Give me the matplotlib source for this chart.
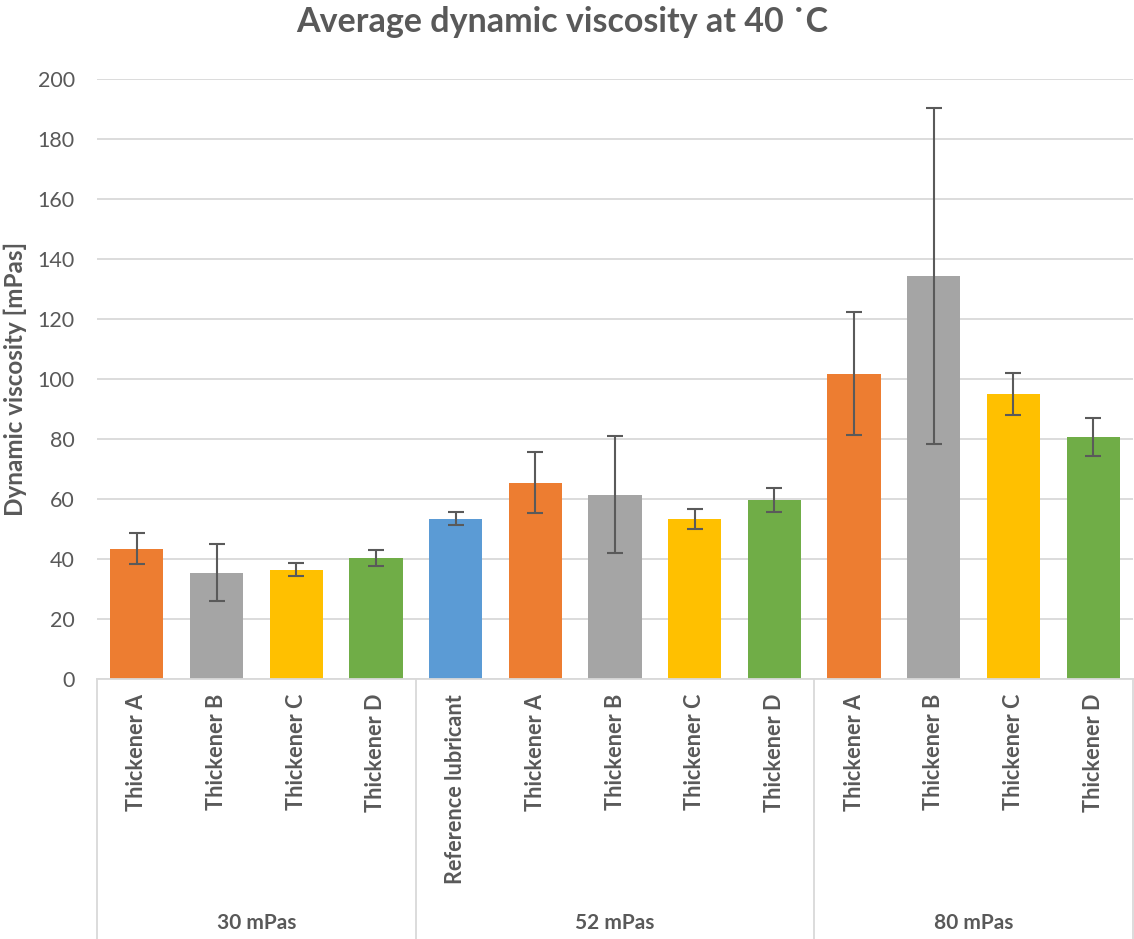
import matplotlib
matplotlib.use("Agg")
import matplotlib.pyplot as plt
import numpy as np

# Data
groups = ["30 mPas", "52 mPas", "80 mPas"]
labels_30 = ["Thickener A", "Thickener B", "Thickener C", "Thickener D"]
values_30 = [43.5, 35.5, 36.5, 40.3]
errors_30 = [5.3, 9.5, 2.3, 2.6]
labels_52 = ["Reference lubricant", "Thickener A", "Thickener B", "Thickener C", "Thickener D"]
values_52 = [53.5, 65.5, 61.5, 53.3, 59.6]
errors_52 = [2.2, 10.3, 19.5, 3.4, 4.0]
labels_80 = ["Thickener A", "Thickener B", "Thickener C", "Thickener D"]
values_80 = [101.8, 134.2, 95.0, 80.8]
errors_80 = [20.5, 56.0, 7.0, 6.3]

colors = {
    "Reference lubricant": "#5B9BD5",
    "Thickener A": "#ED7D31",
    "Thickener B": "#A5A5A5",
    "Thickener C": "#FFC000",
    "Thickener D": "#70AD47",
}
text_color = "#595959"
grid_color = "#D9D9D9"

plt.rcParams["font.family"] = ["Lato", "DejaVu Sans"]

labels = labels_30 + labels_52 + labels_80
values = values_30 + values_52 + values_80
errors = errors_30 + errors_52 + errors_80
group_sizes = [len(labels_30), len(labels_52), len(labels_80)]
x = np.arange(len(labels))

fig = plt.figure(figsize=(11.34, 9.39), dpi=100)
ax = fig.add_axes([97 / 1134, 1 - 679 / 939, 1036 / 1134, 600 / 939])

ax.bar(x, values, width=0.667, color=[colors[l] for l in labels], zorder=2)
ax.errorbar(x, values, yerr=errors, fmt="none", ecolor="#5A5A5A",
            elinewidth=1.5, capsize=5.8, capthick=1.5, zorder=3)

ax.set_xlim(-0.5, len(labels) - 0.5)
ax.set_ylim(0, 200)
ax.set_yticks(np.arange(0, 201, 20))
ax.yaxis.grid(True, color=grid_color, linewidth=1.3)
ax.set_axisbelow(True)
ax.tick_params(axis="y", length=0, pad=16, labelsize=15.5, labelcolor=text_color)
ax.set_xticks([])
for s in ["top", "right", "left"]:
    ax.spines[s].set_visible(False)
ax.spines["bottom"].set_color(grid_color)
ax.spines["bottom"].set_linewidth(1.3)

# category labels (rotated)
for xi, lab in zip(x, labels):
    ax.text(xi, -0.025, lab, transform=ax.get_xaxis_transform(), rotation=90,
            ha="center", va="top", fontsize=15.6, fontweight="bold", color=text_color)

# group labels and separators
start = 0
bounds = [-0.5]
for g, n in zip(groups, group_sizes):
    center = start + (n - 1) / 2
    ax.text(center, -0.406, g, transform=ax.get_xaxis_transform(),
            ha="center", va="center", fontsize=15, fontweight="bold", color=text_color)
    start += n
    bounds.append(start - 0.5)
for b in bounds:
    ax.plot([b, b], [0, -0.44], transform=ax.get_xaxis_transform(),
            color=grid_color, linewidth=1.3, clip_on=False)

fig.text(15 / 1134, 1 - 379 / 939, "Dynamic viscosity [mPas]", rotation=90,
         ha="center", va="center", fontsize=17.5, fontweight="bold", color=text_color)
fig.text(562 / 1134, 1 - 22 / 939, "Average dynamic viscosity at 40 \u02d9C", ha="center",
         va="center", fontsize=24.5, fontweight="bold", color=text_color)

fig.savefig("out.png", dpi=100, facecolor="white")
